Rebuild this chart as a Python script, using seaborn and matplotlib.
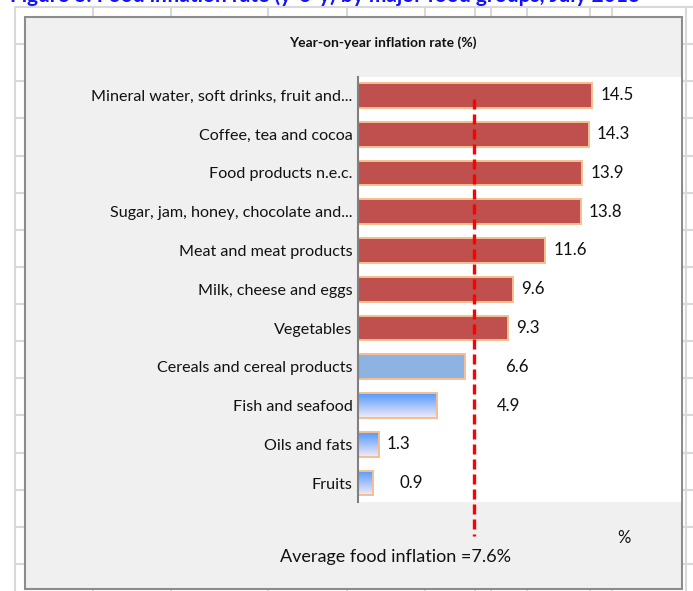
import numpy as np
import pandas as pd
import seaborn as sns
import matplotlib.pyplot as plt
from matplotlib.patches import Rectangle
from matplotlib.transforms import blended_transform_factory

# =========================
# DATA
# =========================
categories = [
    "Mineral water, soft drinks, fruit and...",
    "Coffee, tea and cocoa",
    "Food products n.e.c.",
    "Sugar, jam, honey, chocolate and...",
    "Meat and meat products",
    "Milk, cheese and eggs",
    "Vegetables",
    "Cereals and cereal products",
    "Fish and seafood",
    "Oils and fats",
    "Fruits",
]
values = [14.5, 14.3, 13.9, 13.8, 11.6, 9.6, 9.3, 6.6, 4.9, 1.3, 0.9]
bar_style = ["red"] * 7 + ["blue", "gradient", "gradient", "gradient"]
average_text = "Average food inflation =7.6%"
avg_line_x = 7.2   # where the dashed line sits on the value axis in the picture

df = pd.DataFrame({"category": categories, "value": values})

# =========================
# STYLE
# =========================
W, H = 693, 591
sns.set_style("white")
plt.rcParams["font.family"] = ["Lato", "DejaVu Sans"]

RED = "#C0504D"
BLUE = "#8DB3E2"
EDGE = "#F8BE8E"
GRID = "#D9D9D9"
style_colors = {"red": RED, "blue": BLUE, "gradient": "#5B9BFF"}
palette = [style_colors[s] for s in bar_style]


def fx(px):
    return px / W


def fy(py):
    return 1 - py / H


fig = plt.figure(figsize=(W / 100, H / 100), dpi=100)
fig.patch.set_facecolor("white")

# spreadsheet cells behind the chart
bg = fig.add_axes([0, 0, 1, 1], zorder=-10)
bg.set_xlim(0, W)
bg.set_ylim(H, 0)
bg.axis("off")
for x in [15, 93, 171, 268, 347, 425, 475, 491, 527, 590, 612, 686]:
    bg.plot([x, x], [7, H], color=GRID, lw=1.5, zorder=1)
for y in np.arange(7, H, 37.13):
    bg.plot([15, W], [y, y], color=GRID, lw=1.5, zorder=1)
bg.add_patch(Rectangle((25, 17), 657, 572, facecolor="#F0F0F0",
                       edgecolor="#8C8C8C", lw=1.5, zorder=3))

# cut-off caption at the very top
fig.text(fx(10), fy(2), "Figure 3: Food inflation rate (y-o-y) by major food groups, July 2013",
         color="#1414F0", fontsize=15, fontweight="bold", va="baseline", ha="left")

# =========================
# BARS
# =========================
ax = fig.add_axes([fx(358), fy(502), fx(681 - 358), (502 - 77) / H])
sns.barplot(data=df, y="category", x="value", hue="category", palette=palette,
            legend=False, orient="h", width=0.64, edgecolor=EDGE, linewidth=1.4,
            saturation=1, ax=ax)
ax.set_facecolor("white")

top_c = np.array([0.33, 0.60, 1.00])
bot_c = np.array([0.95, 0.92, 0.97])
grad = np.linspace(0, 1, 64)[:, None, None]
grad = top_c * (1 - grad) + bot_c * grad

for patch, s in zip(ax.patches, bar_style):
    if s == "gradient":
        x0, y0 = patch.get_x(), patch.get_y()
        w, h = patch.get_width(), patch.get_height()
        patch.set_facecolor("none")
        im = ax.imshow(grad, extent=(x0, x0 + w, y0 + h, y0), origin="upper",
                       aspect="auto", zorder=patch.get_zorder() - 0.1)
        im.set_clip_path(patch)

ax.set_xlim(0, 20)
ax.set_ylim(10.49, -0.477)

# value labels (some sit further out, as in the picture)
label_push = {"Cereals and cereal products": 41, "Fish and seafood": 60, "Fruits": 27}
for i, (c, v) in enumerate(zip(categories, values)):
    off = label_push.get(c, 8) * 0.72
    ax.annotate(f"{v}", xy=(v, i), xytext=(off, 0), textcoords="offset points",
                va="center", ha="left", fontsize=12.2, color="#111111")

# average marker
trans = blended_transform_factory(ax.transData, fig.transFigure)
ax.plot([avg_line_x, avg_line_x], [fy(99), fy(536)], transform=trans,
        color="#FF0000", lw=2.4, dashes=(3.0, 1.5), clip_on=False, zorder=5)

ax.set_xlabel("")
ax.set_ylabel("")
ax.set_xticks([])
ax.tick_params(axis="y", length=0, pad=4, labelsize=11.6, labelcolor="#111111")
for sp in ["top", "right", "bottom"]:
    ax.spines[sp].set_visible(False)
ax.spines["left"].set_color("#808080")
ax.spines["left"].set_linewidth(1.5)

fig.text(fx(383), fy(43), "Year-on-year inflation rate (%)", fontsize=10,
         fontweight="bold", ha="center", va="center", color="#111111")
fig.text(fx(624), fy(538), "%", fontsize=12, ha="center", va="center", color="#111111")
fig.text(fx(396), fy(557), average_text, fontsize=13, ha="center", va="center",
         color="#111111")

fig.savefig("out.png", dpi=100)
